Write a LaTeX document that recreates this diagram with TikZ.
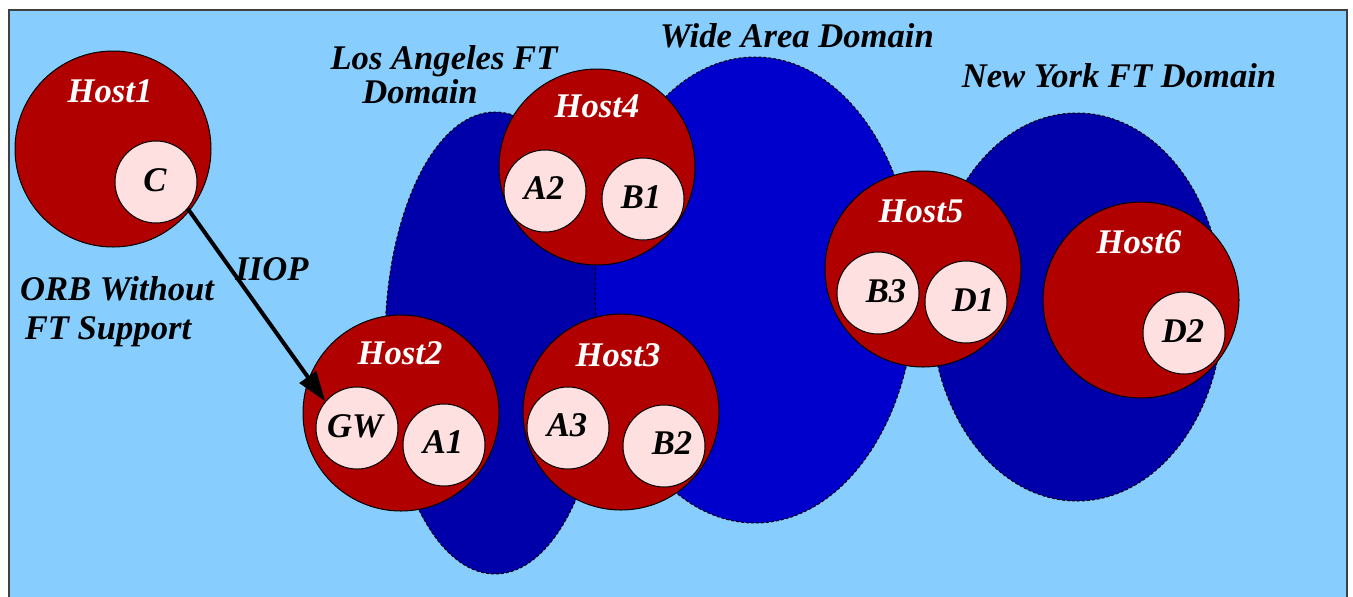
\documentclass[tikz,border=0pt]{standalone}
\usepackage{fontspec}
\setmainfont{Liberation Serif}
\usetikzlibrary{shapes.geometric,arrows.meta}
\definecolor{sky}{RGB}{135,206,255}
\definecolor{ftblue}{RGB}{0,0,170}
\definecolor{wablue}{RGB}{0,0,205}
\definecolor{hostred}{RGB}{176,0,0}
\definecolor{objpink}{RGB}{255,224,224}
\tikzset{
  ftzone/.style={ellipse, draw=black, line width=0.5pt, dash pattern=on 1.5pt off 1pt, inner sep=0pt},
  host/.style={circle, fill=hostred, draw=black, line width=0.5pt, minimum size=98pt, inner sep=0pt},
  obj/.style={circle, fill=objpink, draw=black, line width=0.5pt, minimum size=41pt, inner sep=0pt},
  txt/.style={anchor=base, inner sep=0pt, font=\fontsize{17.3}{20}\selectfont\bfseries\itshape},
  hosttxt/.style={txt, text=white},
  link/.style={line width=2pt, -{Triangle[length=15pt,width=10pt]}}
}
\begin{document}
\begin{tikzpicture}[x=0.5pt, y=-0.5pt]
\useasboundingbox (0,0) rectangle (1353,596);
% background panel
\begin{scope}
\clip (0,0) rectangle (1353,596);
\draw[fill=sky, draw=black!75, line width=1pt] (9,10) rectangle (1347,620);
\end{scope}

% fault-tolerance domains
\node[ftzone, fill=ftblue, minimum width=110pt, minimum height=231pt] (la) at (495,343) {};
\node[ftzone, fill=ftblue, minimum width=146pt, minimum height=194pt] (ny) at (1077,307) {};
\node[ftzone, fill=wablue, minimum width=160pt, minimum height=233pt] (wa) at (755,290) {};

% hosts
\node[host] (h1) at (113,149) {};
\node[host] (h2) at (401,413) {};
\node[host] (h3) at (621,412) {};
\node[host] (h4) at (597,167) {};
\node[host] (h5) at (923,269) {};
\node[host] (h6) at (1141,300) {};

% objects
\node[obj] (c)  at (156,182) {};
\node[obj] (gw) at (357,428) {};
\node[obj] (a1) at (444,445) {};
\node[obj] (a3) at (568,428) {};
\node[obj] (b2) at (664,446) {};
\node[obj] (a2) at (545,191) {};
\node[obj] (b1) at (643,199) {};
\node[obj] (b3) at (878,293) {};
\node[obj] (d1) at (966,302) {};
\node[obj] (d2) at (1184,333) {};

% host names
\node[hosttxt] (t-h1) at (110,102) {Host1};
\node[hosttxt] (t-h2) at (400,364) {Host2};
\node[hosttxt] (t-h3) at (618,366) {Host3};
\node[hosttxt] (t-h4) at (597,117) {Host4};
\node[hosttxt] (t-h5) at (921,222) {Host5};
\node[hosttxt] (t-h6) at (1139,253) {Host6};

% object names
\node[txt] (t-c)  at (155,191) {C};
\node[txt] (t-gw) at (355,437) {GW};
\node[txt] (t-a1) at (443,453) {A1};
\node[txt] (t-a3) at (567,436) {A3};
\node[txt] (t-b2) at (672,454) {B2};
\node[txt] (t-a2) at (544,199) {A2};
\node[txt] (t-b1) at (641,208) {B1};
\node[txt] (t-b3) at (886,302) {B3};
\node[txt] (t-d1) at (973,311) {D1};
\node[txt] (t-d2) at (1183,342) {D2};

% domain captions
\node[txt] (t-la1) at (444,69) {Los Angeles FT};
\node[txt] (t-la2) at (420,103) {Domain};
\node[txt] (t-wa)  at (797,47) {Wide Area Domain};
\node[txt] (t-ny)  at (1119,87) {New York FT Domain};
\node[txt] (t-orb1) at (117,300) {ORB Without};
\node[txt] (t-orb2) at (108,339) {FT Support};

% IIOP link from the client to the gateway
\draw[link] (c.-40) -- (gw.140);
\node[txt] (t-iiop) at (272,280) {IIOP};
\end{tikzpicture}
\end{document}
